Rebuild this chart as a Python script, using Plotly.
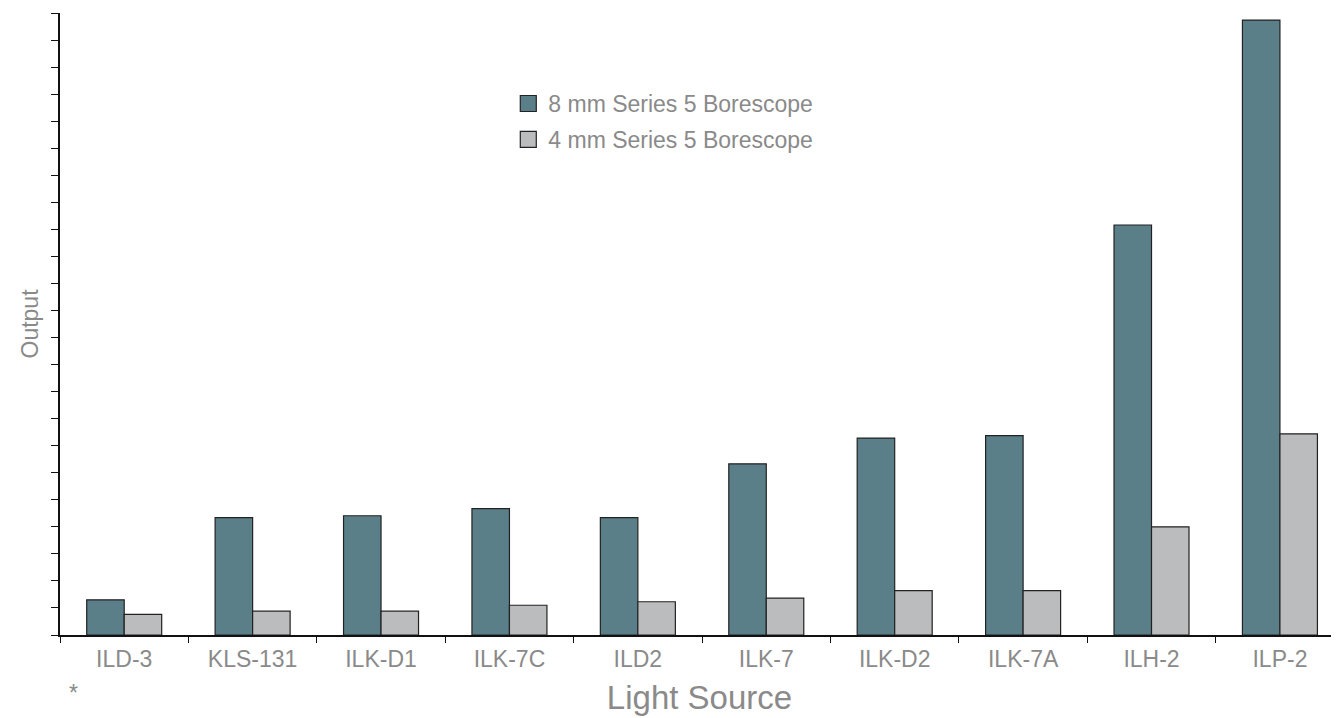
import plotly.graph_objects as go

categories = ["ILD-3", "KLS-131", "ILK-D1", "ILK-7C", "ILD2", "ILK-7", "ILK-D2", "ILK-7A", "ILH-2", "ILP-2"]
series_8mm = [1.30, 4.34, 4.41, 4.67, 4.34, 6.33, 7.28, 7.37, 15.16, 22.74]
series_4mm = [0.76, 0.88, 0.88, 1.10, 1.23, 1.36, 1.64, 1.64, 4.00, 7.44]
series_names = ["8 mm Series 5 Borescope", "4 mm Series 5 Borescope"]
series_colors = ["#5b7f88", "#bbbcbe"]

FONT = "Liberation Sans"
GRAY = "#8a8a8a"
EDGE = "#222222"

fig = go.Figure()
for vals, name, col, grp in zip([series_8mm, series_4mm], series_names, series_colors, ["a", "b"]):
    fig.add_trace(go.Bar(
        x=categories, y=vals, name=name,
        marker=dict(color=col, line=dict(color=EDGE, width=1.2)),
        legendgroup=grp, showlegend=False,
    ))
    # legend-only entry with a larger square swatch
    fig.add_trace(go.Scatter(
        x=[None], y=[None], mode="markers", name=name, legendgroup=grp,
        marker=dict(symbol="square", size=19, color=col, line=dict(color=EDGE, width=1.2)),
        hoverinfo="skip",
    ))

# the page body adds an 8px margin, so the figure is sized to fit the window
fig.update_layout(
    width=1331, height=710,
    margin=dict(l=52, r=0, t=5, b=83),
    paper_bgcolor="white", plot_bgcolor="white",
    barmode="group", bargap=0.416, bargroupgap=0,
    font=dict(family=FONT, color=GRAY, size=23),
    legend=dict(
        x=0.3505, y=0.889, xanchor="left", yanchor="top",
        font=dict(family=FONT, color=GRAY, size=23),
        traceorder="grouped", tracegroupgap=3,
        itemsizing="trace",
        bgcolor="rgba(0,0,0,0)",
    ),
    xaxis=dict(
        range=[-0.5, 9.46], automargin=False,
        showline=True, linecolor="#111111", linewidth=1.5,
        ticks="outside", tickson="boundaries", ticklen=6, tickcolor="#111111", tickwidth=1,
        tickfont=dict(family=FONT, color=GRAY, size=23),
        ticklabelstandoff=3,
        title=dict(text="Light Source", font=dict(family=FONT, color=GRAY, size=33), standoff=15),
        showgrid=False, zeroline=False,
    ),
    yaxis=dict(
        range=[0, 23], dtick=1, automargin=False,
        showline=True, linecolor="#111111", linewidth=1.5,
        ticks="outside", ticklen=7, tickcolor="#111111", tickwidth=1,
        showticklabels=False,
        title=dict(text="Output", font=dict(family=FONT, color=GRAY, size=23), standoff=6),
        showgrid=False, zeroline=False,
    ),
    annotations=[dict(
        text="*", x=0.0102, y=-0.094, xref="paper", yref="paper",
        xanchor="center", yanchor="middle", showarrow=False,
        font=dict(family=FONT, color=GRAY, size=23),
    )],
)

fig.write_html("out.html")
